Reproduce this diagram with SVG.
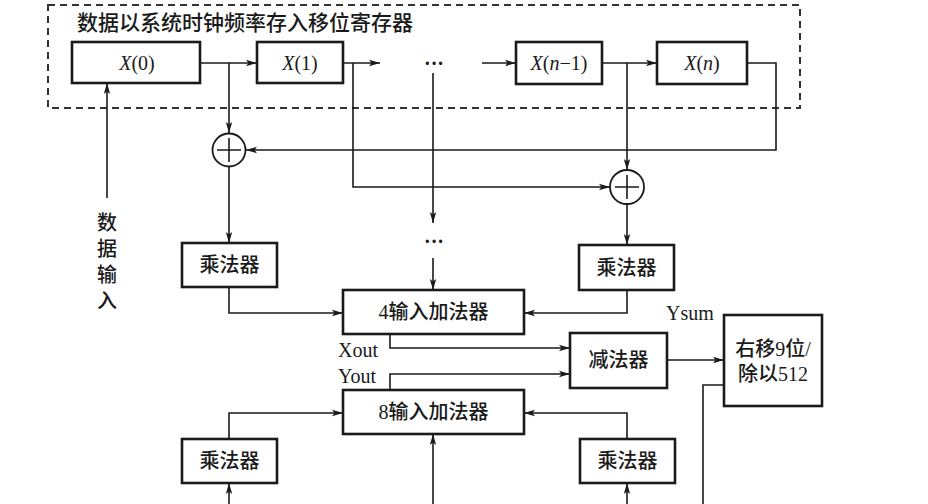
<svg xmlns="http://www.w3.org/2000/svg" width="928" height="504" viewBox="0 0 928 504">
<style>
.box{fill:#fff;stroke:#1a1a1a;stroke-width:2.6}
.ln{fill:none;stroke:#1a1a1a;stroke-width:1.6}
.arr{marker-end:url(#ah)}
.cj{font-family:"Liberation Serif","Noto Sans CJK SC",serif;font-size:20px;fill:#1a1a1a;font-weight:500}
.lat{font-family:"Liberation Serif",serif;font-size:20px;fill:#1a1a1a}
.it{font-style:italic}
.cir{fill:#fff;stroke:#1a1a1a;stroke-width:1.8}
</style>
<defs>
<marker id="ah" markerWidth="12" markerHeight="8" refX="11" refY="4" orient="auto" markerUnits="userSpaceOnUse">
<path d="M0,0.8 L11,4 L0,7.2 L2.5,4 Z" fill="#1a1a1a"/>
</marker>
</defs>
<rect width="928" height="504" fill="#fff"/>
<g id="register">
<rect x="48" y="5" width="752" height="103" fill="none" stroke="#333" stroke-width="2" stroke-dasharray="7,5"/>
<text class="cj" x="77" y="30" style="font-size:21px">数据以系统时钟频率存入移位寄存器</text>
</g>
<g id="connectors">
<path class="ln arr" d="M200,63 H257"/>
<path class="ln arr" d="M343,63 H380"/>
<path class="ln arr" d="M482,63 H516"/>
<path class="ln arr" d="M602,63 H657"/>
<path class="ln arr" d="M747,63 H776 V150 H246"/>
<path class="ln arr" d="M229,63 V133"/>
<path class="ln arr" d="M353,63 V187 H610"/>
<path class="ln arr" d="M433,73 V223"/>
<path class="ln arr" d="M433,258 V290"/>
<path class="ln arr" d="M627,63 V170"/>
<path class="ln arr" d="M229,167 V243"/>
<path class="ln arr" d="M627,204 V245"/>
<path class="ln arr" d="M229,287 V313 H343"/>
<path class="ln arr" d="M627,290 V313 H524"/>
<path class="ln arr" d="M390,334 V348 H570"/>
<path class="ln arr" d="M390,390 V374 H570"/>
<path class="ln arr" d="M667,360 H724"/>
<path class="ln" d="M724,385 H703 V504"/>
<path class="ln arr" d="M229,439 V413 H343"/>
<path class="ln arr" d="M627,439 V413 H524"/>
<path class="ln arr" d="M229,504 V483"/>
<path class="ln arr" d="M433,504 V434"/>
<path class="ln arr" d="M627,504 V483"/>
<path class="ln arr" d="M107,198 V83"/>
</g>
<g id="x0"><rect class="box" x="72" y="42" width="128" height="41"/><text class="lat" x="137" y="70" text-anchor="middle"><tspan class="it">X</tspan>(0)</text></g>
<g id="x1"><rect class="box" x="257" y="42" width="86" height="41"/><text class="lat" x="300" y="70" text-anchor="middle"><tspan class="it">X</tspan>(1)</text></g>
<g id="dots1"><text class="lat" x="434" y="70" text-anchor="middle" font-weight="bold">···</text></g>
<g id="xn1"><rect class="box" x="516" y="42" width="86" height="42"/><text class="lat" x="559" y="70" text-anchor="middle"><tspan class="it">X</tspan>(<tspan class="it">n</tspan>−1)</text></g>
<g id="xn"><rect class="box" x="657" y="42" width="90" height="42"/><text class="lat" x="702" y="70" text-anchor="middle"><tspan class="it">X</tspan>(<tspan class="it">n</tspan>)</text></g>
<g id="sum1"><circle class="cir" cx="229" cy="150" r="16.5"/><path class="ln" d="M217,150 H241 M229,138 V162"/></g>
<g id="sum2"><circle class="cir" cx="627" cy="187" r="17"/><path class="ln" d="M615,187 H639 M627,175 V199"/></g>
<g id="dots2"><text class="lat" x="434" y="248" text-anchor="middle" font-weight="bold">···</text></g>
<g id="datain"><text class="cj" x="107" text-anchor="middle"><tspan x="107" y="230">数</tspan><tspan x="107" y="256">据</tspan><tspan x="107" y="282">输</tspan><tspan x="107" y="308">入</tspan></text></g>
<g id="mul1"><rect class="box" x="182" y="243" width="95" height="44"/><text class="cj" x="229.5" y="272" text-anchor="middle">乘法器</text></g>
<g id="mul2"><rect class="box" x="579" y="245" width="95" height="45"/><text class="cj" x="626.5" y="275" text-anchor="middle">乘法器</text></g>
<g id="add4"><rect class="box" x="343" y="290" width="181" height="44"/><text class="cj" x="433.5" y="319" text-anchor="middle">4输入加法器</text></g>
<g id="labels">
<text class="lat" x="666" y="320">Ysum</text>
<text class="lat" x="338" y="357">Xout</text>
<text class="lat" x="338" y="383">Yout</text>
</g>
<g id="sub"><rect class="box" x="570" y="333" width="97" height="55"/><text class="cj" x="618.5" y="367" text-anchor="middle">减法器</text></g>
<g id="shift"><rect class="box" x="724" y="315" width="98" height="91"/><text class="cj" x="773" y="356" text-anchor="middle">右移9位/</text><text class="cj" x="773" y="381" text-anchor="middle">除以512</text></g>
<g id="add8"><rect class="box" x="343" y="390" width="181" height="44"/><text class="cj" x="433.5" y="419" text-anchor="middle">8输入加法器</text></g>
<g id="mul3"><rect class="box" x="182" y="439" width="95" height="44"/><text class="cj" x="229.5" y="468" text-anchor="middle">乘法器</text></g>
<g id="mul4"><rect class="box" x="580" y="439" width="95" height="44"/><text class="cj" x="627.5" y="468" text-anchor="middle">乘法器</text></g>
</svg>
